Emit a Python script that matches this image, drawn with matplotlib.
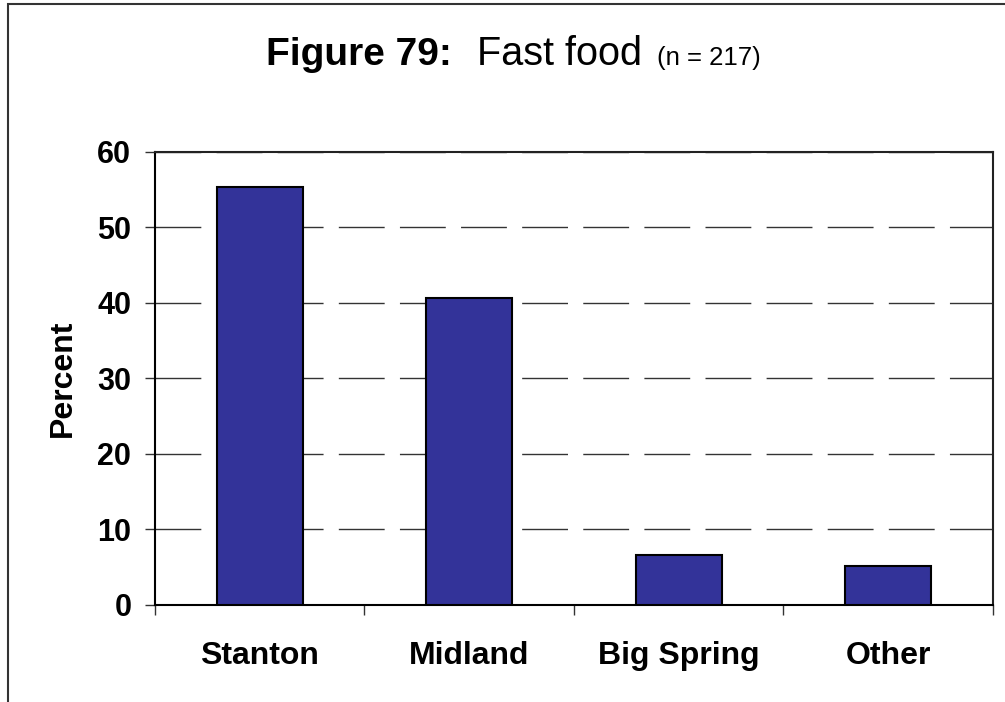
import matplotlib.pyplot as plt
from matplotlib.patches import Rectangle

# data
places = ['Stanton', 'Midland', 'Big Spring', 'Other']
percent = [55.3, 40.7, 6.6, 5.2]
y_ticks = [0, 10, 20, 30, 40, 50, 60]

plt.rcParams['font.family'] = ['Liberation Sans', 'DejaVu Sans']

fig = plt.figure(figsize=(10.05, 7.02), dpi=100)
ax = fig.add_axes([0.1542, 0.1382, 0.8338, 0.6453])

# outer frame of the figure (only left and top edges fall inside the picture)
fig.patches.append(Rectangle((8 / 1005, -0.1), 1.2, 1.1 - 4 / 702,
                             transform=fig.transFigure, fill=False,
                             edgecolor='#333333', linewidth=1.5))

x = list(range(len(places)))
ax.bar(x, percent, width=0.41, color='#333399', edgecolor='black', linewidth=1.5, zorder=3)

ax.set_xlim(-0.5, len(places) - 0.5)
ax.set_ylim(0, 60)
ax.set_yticks(y_ticks)
ax.set_yticklabels([str(v) for v in y_ticks], fontsize=22, fontweight='bold')
ax.tick_params(axis='y', direction='out', length=7, width=1, color='#333333', pad=10)

ax.set_xticks(x)
ax.set_xticklabels(places, fontsize=23, fontweight='bold')
ax.tick_params(axis='x', which='major', length=0, pad=26)
ax.set_xticks([i - 0.5 for i in range(len(places) + 1)], minor=True)
ax.tick_params(axis='x', which='minor', direction='out', length=7, width=1, color='#333333')

ax.yaxis.grid(True, linestyle=(0, (33, 11)), color='#333333', linewidth=1.0)
ax.set_axisbelow(True)

for side in ['left', 'bottom']:
    ax.spines[side].set_linewidth(1.5)
    ax.spines[side].set_color('black')
for side in ['top', 'right']:
    ax.spines[side].set_linewidth(1.5)
    ax.spines[side].set_color('#222222')

ax.set_ylabel('Percent', fontsize=23, fontweight='bold', labelpad=14)

# title made of three parts with different fonts
y_title = 1 - 65 / 702
fig.text(266 / 1005, y_title, 'Figure 79:', fontsize=28, fontweight='bold',
         ha='left', va='baseline')
fig.text(477 / 1005, y_title, 'Fast food', fontsize=28.5, ha='left', va='baseline')
fig.text(657 / 1005, y_title, '(n = 217)', fontsize=18.5, ha='left', va='baseline')

fig.savefig('out.png', dpi=100)
